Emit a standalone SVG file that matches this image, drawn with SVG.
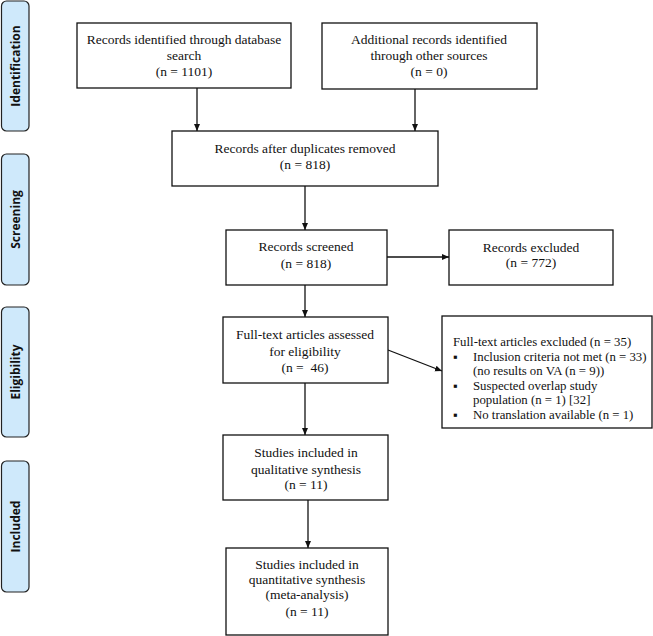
<svg xmlns="http://www.w3.org/2000/svg" width="653" height="636" viewBox="0 0 653 636">
<style>
.box{fill:#fff;stroke:#111;stroke-width:1.3}
.side{fill:#cfe9fb;stroke:#222;stroke-width:1.2}
.t{font-family:"Liberation Serif","Times New Roman",serif;font-size:13.5px;fill:#111;text-anchor:middle}
.tl{font-family:"Liberation Serif","Times New Roman",serif;font-size:12.8px;fill:#111}
.s{font-family:"Open Sans","Noto Sans","Liberation Sans",sans-serif;font-size:12px;font-weight:bold;fill:#111;text-anchor:middle}
.c{stroke:#111;stroke-width:1.3;fill:none;marker-end:url(#ah)}
</style>
<defs>
<marker id="ah" markerWidth="8" markerHeight="8" refX="7" refY="4" orient="auto" markerUnits="userSpaceOnUse">
<path d="M0,1 L7,4 L0,7 Z" fill="#111"/>
</marker>
</defs>
<rect width="653" height="636" fill="#fff"/>
<g id="phase-identification"><rect class="side" x="1.5" y="1" width="27.5" height="130" rx="5"/><text class="s" transform="translate(19.5,66) rotate(-90)">Identification</text></g>
<g id="phase-screening"><rect class="side" x="1.5" y="154" width="27.5" height="131" rx="5"/><text class="s" transform="translate(19.5,219.5) rotate(-90)">Screening</text></g>
<g id="phase-eligibility"><rect class="side" x="1.5" y="307" width="27.5" height="130" rx="5"/><text class="s" transform="translate(19.5,372) rotate(-90)">Eligibility</text></g>
<g id="phase-included"><rect class="side" x="1.5" y="461" width="27.5" height="131" rx="5"/><text class="s" transform="translate(19.5,526.5) rotate(-90)">Included</text></g>

<g id="connectors">
<line class="c" x1="197" y1="88" x2="197" y2="131"/>
<line class="c" x1="415" y1="89" x2="415" y2="131"/>
<line class="c" x1="305" y1="186" x2="305" y2="230"/>
<line class="c" x1="387" y1="257" x2="449" y2="257"/>
<line class="c" x1="305" y1="285" x2="305" y2="317"/>
<line class="c" x1="388" y1="350" x2="442" y2="371"/>
<line class="c" x1="305" y1="383" x2="305" y2="435"/>
<line class="c" x1="308" y1="500" x2="308" y2="548"/>
</g>

<g id="n-database"><rect class="box" x="77" y="23" width="214" height="65"/>
<text class="t" x="184" y="44">Records identified through database</text>
<text class="t" x="184" y="60">search</text>
<text class="t" x="184" y="76">(n = 1101)</text></g>

<g id="n-other"><rect class="box" x="322" y="23" width="215" height="66"/>
<text class="t" x="429" y="44">Additional records identified</text>
<text class="t" x="429" y="60">through other sources</text>
<text class="t" x="429" y="76">(n = 0)</text></g>

<g id="n-dedup"><rect class="box" x="172" y="131" width="266" height="55"/>
<text class="t" x="305" y="153">Records after duplicates removed</text>
<text class="t" x="305" y="169">(n = 818)</text></g>

<g id="n-screened"><rect class="box" x="226" y="230" width="161" height="55"/>
<text class="t" x="306" y="251">Records screened</text>
<text class="t" x="306" y="268">(n = 818)</text></g>

<g id="n-excluded"><rect class="box" x="449" y="230" width="164" height="55"/>
<text class="t" x="531" y="252">Records excluded</text>
<text class="t" x="531" y="267">(n = 772)</text></g>

<g id="n-fulltext"><rect class="box" x="223" y="317" width="165" height="66"/>
<text class="t" x="305" y="339">Full-text articles assessed</text>
<text class="t" x="305" y="356">for eligibility</text>
<text class="t" x="305" y="372" xml:space="preserve">(n =  46)</text></g>

<g id="n-ft-excluded"><rect class="box" x="442" y="316" width="210" height="112"/>
<text class="tl" x="453" y="346">Full-text articles excluded (n = 35)</text>
<text class="tl" x="453" y="360.5">▪</text>
<text class="tl" x="473" y="360.5">Inclusion criteria not met (n = 33)</text>
<text class="tl" x="473" y="375">(no results on VA (n = 9))</text>
<text class="tl" x="453" y="389.5">▪</text>
<text class="tl" x="473" y="389.5">Suspected overlap study</text>
<text class="tl" x="473" y="404">population (n = 1) [32]</text>
<text class="tl" x="453" y="418.5">▪</text>
<text class="tl" x="473" y="418.5">No translation available (n = 1)</text></g>

<g id="n-qualitative"><rect class="box" x="223" y="435" width="165" height="65"/>
<text class="t" x="306" y="457">Studies included in</text>
<text class="t" x="306" y="474">qualitative synthesis</text>
<text class="t" x="306" y="489">(n = 11)</text></g>

<g id="n-quantitative"><rect class="box" x="226" y="548" width="162" height="87"/>
<text class="t" x="307" y="569">Studies included in</text>
<text class="t" x="307" y="584">quantitative synthesis</text>
<text class="t" x="307" y="599">(meta-analysis)</text>
<text class="t" x="307" y="616">(n = 11)</text></g>
</svg>
